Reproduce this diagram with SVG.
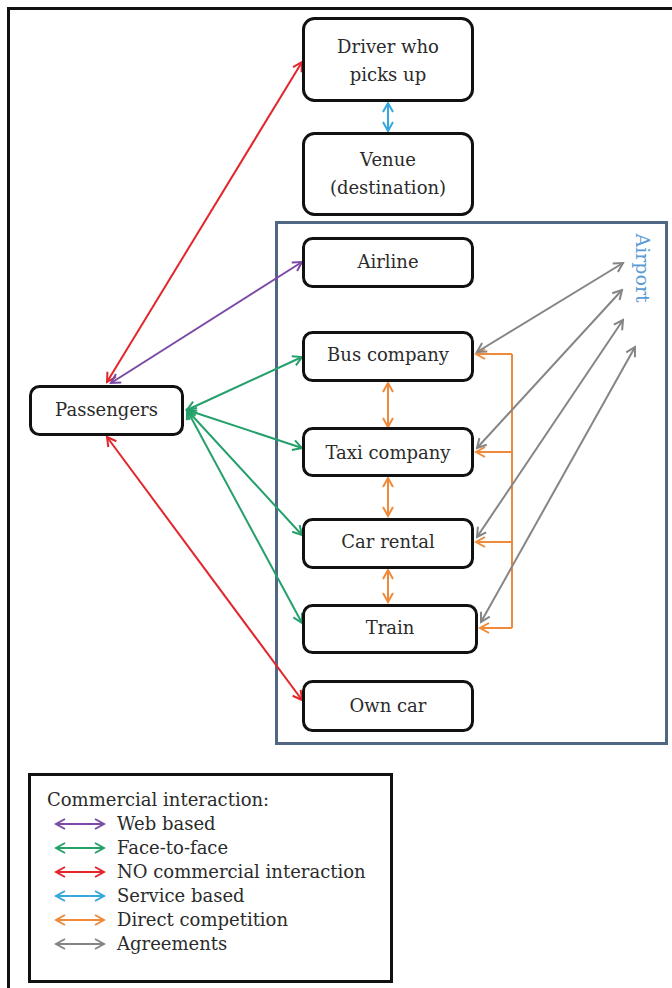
<svg xmlns="http://www.w3.org/2000/svg" width="672" height="988" viewBox="0 0 672 988">
<style>
  .box { fill: #ffffff; stroke: #111111; stroke-width: 3; }
  .lbl { font-family: "DejaVu Serif", "Liberation Serif", serif; font-size: 18px; fill: #2b2b2b; text-anchor: middle; }
  .leg { font-family: "DejaVu Serif", "Liberation Serif", serif; font-size: 18px; fill: #2b2b2b; }
  .c { fill: none; stroke-width: 2; }
  .red { stroke: #e2262c; }
  .pur { stroke: #7a4aa6; }
  .grn { stroke: #25a06b; }
  .cya { stroke: #35a7de; }
  .org { stroke: #ee8a3a; }
  .gry { stroke: #858585; }
</style>
<defs>
  <marker id="mr" viewBox="-11 -7 13 14" refX="0" refY="0" markerWidth="13" markerHeight="14" markerUnits="userSpaceOnUse" orient="auto-start-reverse"><path d="M-9,-5 L0,0 L-9,5" fill="none" stroke="#e2262c" stroke-width="2"/></marker>
  <marker id="mp" viewBox="-11 -7 13 14" refX="0" refY="0" markerWidth="13" markerHeight="14" markerUnits="userSpaceOnUse" orient="auto-start-reverse"><path d="M-9,-5 L0,0 L-9,5" fill="none" stroke="#7a4aa6" stroke-width="2"/></marker>
  <marker id="mg" viewBox="-11 -7 13 14" refX="0" refY="0" markerWidth="13" markerHeight="14" markerUnits="userSpaceOnUse" orient="auto-start-reverse"><path d="M-9,-5 L0,0 L-9,5" fill="none" stroke="#25a06b" stroke-width="2"/></marker>
  <marker id="mc" viewBox="-11 -7 13 14" refX="0" refY="0" markerWidth="13" markerHeight="14" markerUnits="userSpaceOnUse" orient="auto-start-reverse"><path d="M-9,-5 L0,0 L-9,5" fill="none" stroke="#35a7de" stroke-width="2"/></marker>
  <marker id="mo" viewBox="-11 -7 13 14" refX="0" refY="0" markerWidth="13" markerHeight="14" markerUnits="userSpaceOnUse" orient="auto-start-reverse"><path d="M-9,-5 L0,0 L-9,5" fill="none" stroke="#ee8a3a" stroke-width="2"/></marker>
  <marker id="my" viewBox="-11 -7 13 14" refX="0" refY="0" markerWidth="13" markerHeight="14" markerUnits="userSpaceOnUse" orient="auto-start-reverse"><path d="M-9,-5 L0,0 L-9,5" fill="none" stroke="#858585" stroke-width="2"/></marker>
</defs>
<rect x="0" y="0" width="672" height="988" fill="#ffffff"/>
<rect id="frame" x="8.5" y="8.5" width="700" height="1000" fill="none" stroke="#111111" stroke-width="3"/>

<g id="airport">
  <rect x="276.5" y="222.5" width="390" height="521" fill="#ffffff" stroke="#4f6782" stroke-width="3"/>
  <text transform="translate(636,268) rotate(90)" font-family="DejaVu Serif, Liberation Serif, serif" font-size="19" fill="#5b9bd5" text-anchor="middle">Airport</text>
</g>

<g id="connectors">
  <line class="c red" x1="107" y1="382" x2="302" y2="62" marker-start="url(#mr)" marker-end="url(#mr)"/>
  <line class="c pur" x1="111" y1="383" x2="302" y2="262" marker-start="url(#mp)" marker-end="url(#mp)"/>
  <line class="c grn" x1="187" y1="410" x2="302" y2="357" marker-start="url(#mg)" marker-end="url(#mg)"/>
  <line class="c grn" x1="187" y1="410" x2="302" y2="448" marker-start="url(#mg)" marker-end="url(#mg)"/>
  <line class="c grn" x1="187" y1="410" x2="302" y2="535" marker-start="url(#mg)" marker-end="url(#mg)"/>
  <line class="c grn" x1="187" y1="410" x2="302" y2="623" marker-start="url(#mg)" marker-end="url(#mg)"/>
  <line class="c red" x1="107" y1="437" x2="302" y2="700" marker-start="url(#mr)" marker-end="url(#mr)"/>
  <line class="c cya" x1="388" y1="103" x2="388" y2="131" marker-start="url(#mc)" marker-end="url(#mc)"/>
  <line class="c org" x1="388" y1="383" x2="388" y2="427" marker-start="url(#mo)" marker-end="url(#mo)"/>
  <line class="c org" x1="388" y1="478" x2="388" y2="516" marker-start="url(#mo)" marker-end="url(#mo)"/>
  <line class="c org" x1="388" y1="570" x2="388" y2="602" marker-start="url(#mo)" marker-end="url(#mo)"/>
  <path class="c org" d="M512,354 L512,628"/>
  <line class="c org" x1="512" y1="354" x2="476" y2="354" marker-end="url(#mo)"/>
  <line class="c org" x1="512" y1="452" x2="476" y2="452" marker-end="url(#mo)"/>
  <line class="c org" x1="512" y1="542" x2="476" y2="542" marker-end="url(#mo)"/>
  <line class="c org" x1="512" y1="628" x2="480" y2="628" marker-end="url(#mo)"/>
  <line class="c gry" x1="477" y1="352" x2="623" y2="263" marker-start="url(#my)" marker-end="url(#my)"/>
  <line class="c gry" x1="477" y1="448" x2="622" y2="290" marker-start="url(#my)" marker-end="url(#my)"/>
  <line class="c gry" x1="477" y1="537" x2="623" y2="320" marker-start="url(#my)" marker-end="url(#my)"/>
  <line class="c gry" x1="481" y1="622" x2="635" y2="347" marker-start="url(#my)" marker-end="url(#my)"/>
</g>

<g id="driver">
  <rect class="box" x="303.5" y="18.5" width="169" height="82" rx="11"/>
  <text class="lbl" x="388" y="53">Driver who</text>
  <text class="lbl" x="388" y="81">picks up</text>
</g>
<g id="venue">
  <rect class="box" x="303.5" y="133.5" width="169" height="81" rx="11"/>
  <text class="lbl" x="388" y="166">Venue</text>
  <text class="lbl" x="388" y="194">(destination)</text>
</g>
<g id="airline">
  <rect class="box" x="303.5" y="238.5" width="169" height="48" rx="9"/>
  <text class="lbl" x="388" y="268">Airline</text>
</g>
<g id="bus">
  <rect class="box" x="303.5" y="332.5" width="169" height="48" rx="9"/>
  <text class="lbl" x="388" y="361">Bus company</text>
</g>
<g id="taxi">
  <rect class="box" x="303.5" y="428.5" width="169" height="47" rx="9"/>
  <text class="lbl" x="388" y="459">Taxi company</text>
</g>
<g id="carrental">
  <rect class="box" x="303.5" y="519.5" width="169" height="48" rx="9"/>
  <text class="lbl" x="388" y="548">Car rental</text>
</g>
<g id="train">
  <rect class="box" x="303.5" y="605.5" width="173" height="47" rx="9"/>
  <text class="lbl" x="390" y="634">Train</text>
</g>
<g id="owncar">
  <rect class="box" x="303.5" y="681.5" width="169" height="49" rx="9"/>
  <text class="lbl" x="388" y="712">Own car</text>
</g>
<g id="passengers">
  <rect class="box" x="30.5" y="386.5" width="152" height="48" rx="9"/>
  <text class="lbl" x="106.5" y="416">Passengers</text>
</g>

<g id="legend">
  <rect x="29.5" y="774.5" width="362" height="207" fill="#ffffff" stroke="#111111" stroke-width="3"/>
  <text class="leg" x="47" y="806">Commercial interaction:</text>
  <line class="c pur" x1="56" y1="824" x2="104" y2="824" marker-start="url(#mp)" marker-end="url(#mp)"/>
  <text class="leg" x="117" y="830">Web based</text>
  <line class="c grn" x1="56" y1="848" x2="104" y2="848" marker-start="url(#mg)" marker-end="url(#mg)"/>
  <text class="leg" x="117" y="854">Face-to-face</text>
  <line class="c red" x1="56" y1="872" x2="104" y2="872" marker-start="url(#mr)" marker-end="url(#mr)"/>
  <text class="leg" x="117" y="878">NO commercial interaction</text>
  <line class="c cya" x1="56" y1="896" x2="104" y2="896" marker-start="url(#mc)" marker-end="url(#mc)"/>
  <text class="leg" x="117" y="902">Service based</text>
  <line class="c org" x1="56" y1="920" x2="104" y2="920" marker-start="url(#mo)" marker-end="url(#mo)"/>
  <text class="leg" x="117" y="926">Direct competition</text>
  <line class="c gry" x1="56" y1="944" x2="104" y2="944" marker-start="url(#my)" marker-end="url(#my)"/>
  <text class="leg" x="117" y="950">Agreements</text>
</g>
</svg>
